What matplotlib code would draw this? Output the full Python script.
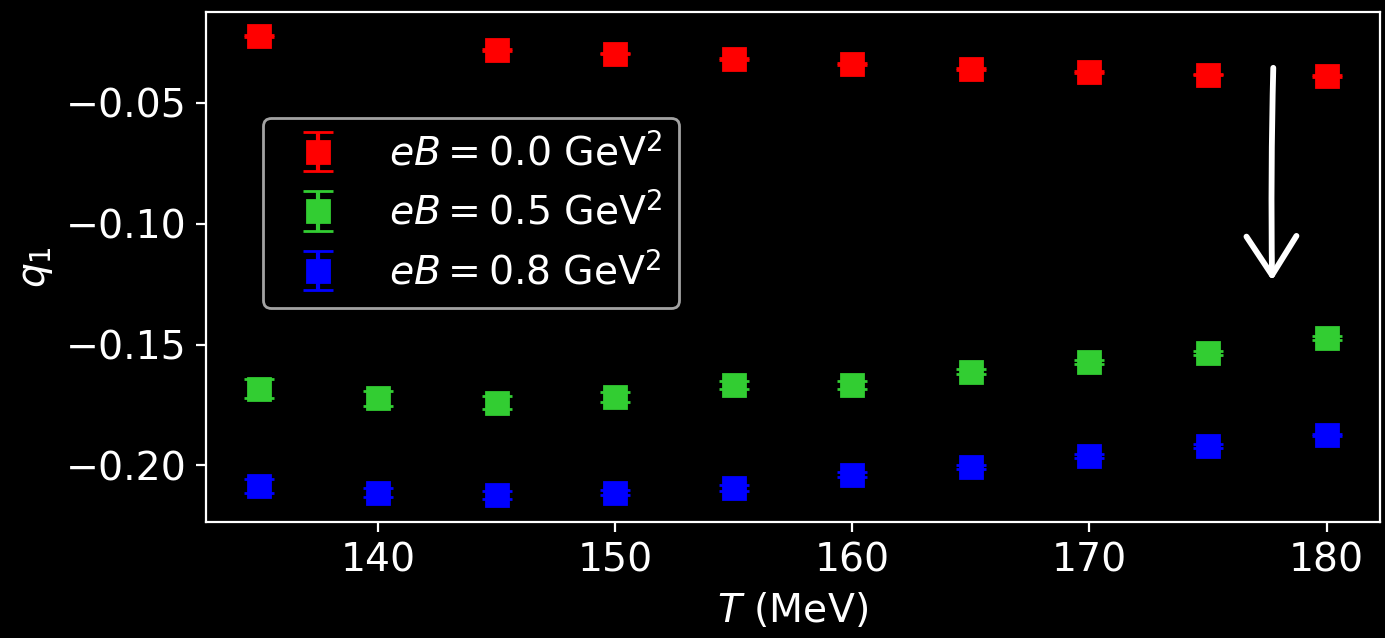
import matplotlib
matplotlib.use("Agg")
import matplotlib.pyplot as plt

plt.style.use("dark_background")

# Data
T_red = [135, 145, 150, 155, 160, 165, 170, 175, 180]
q_red = [-0.0223, -0.0281, -0.0296, -0.0318, -0.0339, -0.0359, -0.0372, -0.0383, -0.0388]
e_red = [0.0003, 0.0003, 0.0003, 0.0003, 0.0003, 0.0003, 0.0003, 0.0003, 0.0003]

T_all = [135, 140, 145, 150, 155, 160, 165, 170, 175, 180]
q_green = [-0.1683, -0.1723, -0.1740, -0.1718, -0.1667, -0.1667, -0.1613, -0.1572, -0.1534, -0.1472]
e_green = [0.0039, 0.0030, 0.0027, 0.0020, 0.0015, 0.0015, 0.0010, 0.0010, 0.0008, 0.0008]
q_blue = [-0.2085, -0.2112, -0.2122, -0.2112, -0.2093, -0.2039, -0.2006, -0.1960, -0.1919, -0.1874]
e_blue = [0.0027, 0.0017, 0.0016, 0.0012, 0.0012, 0.0010, 0.0008, 0.0008, 0.0008, 0.0006]

labels = [r"$eB = 0.0$ GeV$^2$", r"$eB = 0.5$ GeV$^2$", r"$eB = 0.8$ GeV$^2$"]
colors = ["red", "limegreen", "blue"]

fs = 14.2
fig = plt.figure(figsize=(6.925, 3.19), dpi=200)
ax = fig.add_axes([0.1487, 0.1818, 0.8477, 0.7994])

ax.errorbar(T_red, q_red, yerr=e_red, fmt="s", color=colors[0], ms=8, capsize=5.5, label=labels[0])
ax.errorbar(T_all, q_green, yerr=e_green, fmt="s", color=colors[1], ms=8, capsize=5.5, label=labels[1])
ax.errorbar(T_all, q_blue, yerr=e_blue, fmt="s", color=colors[2], ms=8, capsize=5.5, label=labels[2])

ax.set_xlim(132.75, 182.25)
ax.set_ylim(-0.2234, -0.0124)
ax.set_xticks([140, 150, 160, 170, 180])
ax.set_yticks([-0.05, -0.10, -0.15, -0.20])
ax.tick_params(labelsize=fs)
ax.set_xlabel(r"$T$ (MeV)", fontsize=fs)
ax.set_ylabel(r"$q_1$", fontsize=fs)

ax.legend(loc="upper left", bbox_to_anchor=(0.0486, 0.792), borderaxespad=0, fontsize=fs)

ax.annotate("", xy=(177.7, -0.1235), xytext=(177.75, -0.0355),
            arrowprops=dict(arrowstyle="->, head_length=0.7, head_width=0.45",
                            color="white", lw=2.1, mutation_scale=20,
                            shrinkA=0, shrinkB=0, connectionstyle="arc3,rad=0.01"))

fig.savefig("out.png", dpi=200)
